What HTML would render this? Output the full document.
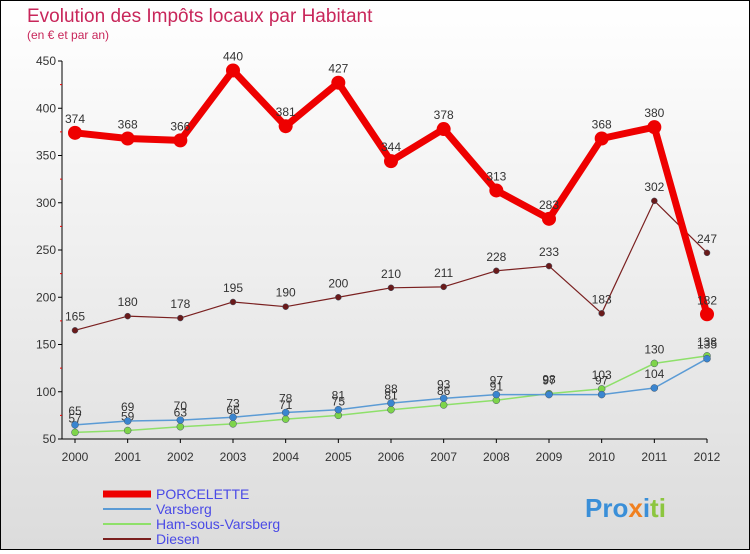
<!DOCTYPE html>
<html><head><meta charset="utf-8"><style>
body{margin:0;width:750px;height:550px;overflow:hidden;font-family:"Liberation Sans",sans-serif}
#wrap{position:relative;width:748px;height:548px;border:1px solid #000;background:linear-gradient(#fff,#dcdcdc)}
</style></head><body>
<div id="wrap">
<svg id="svg" width="748" height="548" xmlns="http://www.w3.org/2000/svg">
<text x="26" y="21" font-size="19" fill="#c8265a">Evolution des Impôts locaux par Habitant</text>
<text x="26" y="38" font-size="12" fill="#c8265a">(en € et par an)</text>
<g id="axes"></g><g id="series"></g>
<g>
<line x1="102" y1="493" x2="150" y2="493" stroke="#e00" stroke-width="7"/>
<text x="155" y="498" font-size="14" fill="#4a4ae6">PORCELETTE</text>
<line x1="102" y1="508" x2="150" y2="508" stroke="#5b9bd5" stroke-width="2"/>
<text x="155" y="513" font-size="14" fill="#4a4ae6">Varsberg</text>
<line x1="102" y1="523" x2="150" y2="523" stroke="#8ee06a" stroke-width="2"/>
<text x="155" y="528" font-size="14" fill="#4a4ae6">Ham-sous-Varsberg</text>
<line x1="102" y1="538" x2="150" y2="538" stroke="#7a2020" stroke-width="2"/>
<text x="155" y="543" font-size="14" fill="#4a4ae6">Diesen</text>
</g>
<text x="584" y="516" font-size="26" font-weight="bold" fill="#3a8fd8">Pro<tspan fill="#f08020">x</tspan><tspan fill="#3a8fd8">i</tspan><tspan fill="#8cc63f">ti</tspan></text>
</svg></div>
<script>
const years=[2000,2001,2002,2003,2004,2005,2006,2007,2008,2009,2010,2011,2012];
const yTicks=[50,100,150,200,250,300,350,400,450];
const porcelette=[374,368,366,440,381,427,344,378,313,283,368,380,182];
const varsberg=[65,69,70,73,78,81,88,93,97,97,97,104,135];
const ham=[57,59,63,66,71,75,81,86,91,98,103,130,138];
const diesen=[165,180,178,195,190,200,210,211,228,233,183,302,247];
const NS="http://www.w3.org/2000/svg";
const X=i=>74+i*(632/12);
const Y=v=>438-(v-50)*(378/400);
function mk(t,a,p){const e=document.createElementNS(NS,t);for(const k in a)e.setAttribute(k,a[k]);p.appendChild(e);return e;}
const ax=document.getElementById('axes'),sr=document.getElementById('series');
let e=mk('line',{x1:61,y1:Y(450),x2:61,y2:Y(50),stroke:'#000'},ax);

e=mk('line',{x1:61,y1:Y(50),x2:X(12),y2:Y(50),stroke:'#000'},ax);

yTicks.forEach((v,i)=>{mk('line',{x1:57,y1:Y(v),x2:61,y2:Y(v),stroke:'#000'},ax);
if(i<yTicks.length-1)mk('line',{x1:59,y1:Y(v+25),x2:61,y2:Y(v+25),stroke:'#e00'},ax);
const t=mk('text',{x:55,y:Y(v)+4,'font-size':12,fill:'#333','text-anchor':'end'},ax);t.textContent=v;
});
years.forEach((y,i)=>{mk('line',{x1:X(i),y1:Y(50),x2:X(i),y2:Y(50)+4,stroke:'#000'},ax);
const t=mk('text',{x:X(i),y:Y(50)+22,'font-size':12,fill:'#333','text-anchor':'middle'},ax);t.textContent=y;
});
function series(d,name,col,w,r,dot){const g=mk('g',{},sr);

const l=mk('polyline',{points:d.map((v,i)=>X(i)+','+Y(v)).join(' '),fill:'none',stroke:col,'stroke-width':w,'stroke-linejoin':'round'},g);

d.forEach((v,i)=>{const c=mk('circle',{cx:X(i),cy:Y(v),r:r,fill:dot,stroke:w>3?'none':'#456',"stroke-width":0.5},g);

const t=mk('text',{x:X(i),y:Y(v)-10,'font-size':12,fill:'#333','text-anchor':'middle'},g);t.textContent=v;
});}
series(ham,'ham-sous-varsberg','#8ee06a',1.5,3.5,'#7ed44a');
series(varsberg,'varsberg','#5b9bd5',1.5,3.5,'#3a85d0');
series(diesen,'diesen','#7a2020',1.2,3,'#6a1a1a');
series(porcelette,'porcelette','#e00',7,7,'#e00');
</script>
</body></html>
